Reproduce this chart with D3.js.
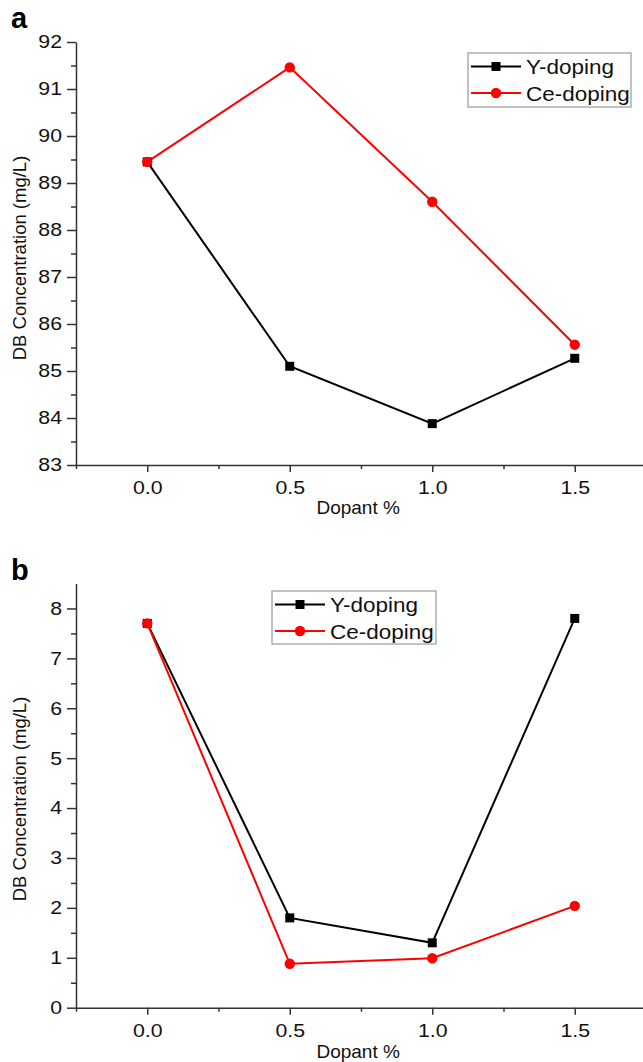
<!DOCTYPE html>
<html>
<head>
<meta charset="utf-8">
<script src="https://cdn.jsdelivr.net/npm/d3@7"></script>
<style>
  html, body { margin: 0; padding: 0; background: #fff; }
  svg { display: block; }
  svg text { font-family: "Liberation Sans", Arial, Helvetica, sans-serif; }
</style>
</head>
<body>
<svg id="chart" width="643" height="1062"></svg>
<script>
// Dopant levels (x values) and x tick labels
const dopant = [0, 0.5, 1.0, 1.5];
const xTickValues = [0, 0.5, 1.0, 1.5];
const xMinorValues = [-0.25, 0.25, 0.75, 1.25, 1.75];

// Panel a: DB concentration (mg/L)
const yDopingA = [89.45, 85.1, 83.88, 85.27];
const ceDopingA = [89.45, 91.46, 88.6, 85.56];
const yTicksA = [83, 84, 85, 86, 87, 88, 89, 90, 91, 92];
const yMinorA = [83.5, 84.5, 85.5, 86.5, 87.5, 88.5, 89.5, 90.5, 91.5];

// Panel b: DB concentration (mg/L)
const yDopingB = [7.7, 1.8, 1.3, 7.8];
const ceDopingB = [7.7, 0.88, 0.99, 2.04];
const yTicksB = [0, 1, 2, 3, 4, 5, 6, 7, 8];
const yMinorB = [0.5, 1.5, 2.5, 3.5, 4.5, 5.5, 6.5, 7.5];

const seriesNames = ["Y-doping", "Ce-doping"];
const seriesColors = ["#000000", "#ff0000"];

const svg = d3.select("#chart");
const axisColor = "#333";

const x = d3.scaleLinear().domain([-0.25, 1.75]).range([76, 646]);

// Widen horizontal labels slightly (the typeface used is a little broader than Arial)
function widen(sel, f) {
  sel.each(function () {
    const w = this.getComputedTextLength();
    d3.select(this).attr("textLength", w * f).attr("lengthAdjust", "spacingAndGlyphs");
  });
}

function drawPanel(opts) {
  const g = svg.append("g");
  const y = d3.scaleLinear().domain(opts.yDomain).range(opts.yRange);
  const y0 = opts.yRange[0];

  // Panel letter
  g.append("text")
    .attr("x", 11).attr("y", opts.letterY)
    .attr("font-size", 29).attr("font-weight", "bold")
    .text(opts.letter);

  // Y axis: minor ticks then major ticks with labels
  g.append("g").attr("transform", "translate(76,0)")
    .call(d3.axisLeft(y).tickValues(opts.yMinor).tickSize(5).tickFormat(""))
    .call(s => s.select(".domain").remove());
  const ya = g.append("g").attr("transform", "translate(76,0)")
    .call(d3.axisLeft(y).tickValues(opts.yTicks).tickSize(9).tickSizeOuter(0).tickPadding(5).tickFormat(d3.format("d")));
  ya.attr("font-family", null).attr("font-size", null);
  ya.selectAll("text").attr("font-size", 18.5).attr("fill", "#111");
  widen(ya.selectAll("text"), 1.15);

  // X axis
  g.append("g").attr("transform", `translate(0,${y0})`)
    .call(d3.axisBottom(x).tickValues(xMinorValues).tickSize(4).tickFormat(""))
    .call(s => s.select(".domain").remove());
  const xa = g.append("g").attr("transform", `translate(0,${y0})`)
    .call(d3.axisBottom(x).tickValues(xTickValues).tickSize(7).tickSizeOuter(0).tickPadding(9).tickFormat(d3.format(".1f")));
  xa.attr("font-family", null).attr("font-size", null);
  xa.selectAll("text").attr("font-size", 18.5).attr("fill", "#111");
  widen(xa.selectAll("text"), 1.15);

  g.selectAll(".domain, .tick line").attr("stroke", axisColor).attr("stroke-width", 1.5);

  // Axis titles
  g.append("text")
    .attr("x", x(0.74)).attr("y", y0 + opts.xTitleOffset)
    .attr("text-anchor", "middle").attr("font-size", 19).attr("fill", "#111")
    .text("Dopant %");
  g.append("text")
    .attr("transform", `translate(26,${opts.yTitleCenter}) rotate(-90)`)
    .attr("text-anchor", "middle").attr("font-size", 18.5).attr("fill", "#111")
    .text("DB Concentration (mg/L)");

  // Series lines and markers
  const line = d3.line().x((d, i) => x(dopant[i])).y(d => y(d));
  opts.series.forEach((vals, k) => {
    g.append("path").datum(vals)
      .attr("fill", "none").attr("stroke", seriesColors[k]).attr("stroke-width", 2)
      .attr("d", line);
  });
  opts.series.forEach((vals, k) => {
    const pts = g.append("g").selectAll("g").data(vals).join("g")
      .attr("transform", (d, i) => `translate(${x(dopant[i])},${y(d)})`);
    if (k === 0) {
      pts.append("rect").attr("x", -4.5).attr("y", -4.5).attr("width", 9).attr("height", 9)
        .attr("fill", seriesColors[k]);
    } else {
      pts.append("circle").attr("r", 5.2).attr("fill", seriesColors[k]);
    }
  });

  // Legend
  const L = opts.legend;
  const lg = g.append("g");
  lg.append("rect")
    .attr("x", L.x).attr("y", L.y).attr("width", L.w).attr("height", L.h)
    .attr("fill", "#fff").attr("stroke", "#999").attr("stroke-width", 1.2);
  seriesNames.forEach((name, k) => {
    const ry = L.y + 13.5 + k * 26.5;
    lg.append("line")
      .attr("x1", L.x + 3).attr("x2", L.x + 53).attr("y1", ry).attr("y2", ry)
      .attr("stroke", seriesColors[k]).attr("stroke-width", 2);
    if (k === 0) {
      lg.append("rect").attr("x", L.x + 28 - 4.5).attr("y", ry - 4.5)
        .attr("width", 9).attr("height", 9).attr("fill", seriesColors[k]);
    } else {
      lg.append("circle").attr("cx", L.x + 28).attr("cy", ry).attr("r", 5.2).attr("fill", seriesColors[k]);
    }
    const t = lg.append("text")
      .attr("x", L.x + 58).attr("y", ry).attr("dy", "0.36em")
      .attr("font-size", 21).attr("fill", "#111")
      .text(name);
    widen(t, 1.07);
  });
}

drawPanel({
  letter: "a", letterY: 28,
  yDomain: [83, 92], yRange: [465, 42],
  yTicks: yTicksA, yMinor: yMinorA,
  series: [yDopingA, ceDopingA],
  xTitleOffset: 49, yTitleCenter: 258,
  legend: { x: 468, y: 53, w: 163, h: 54 }
});

drawPanel({
  letter: "b", letterY: 580,
  yDomain: [0, 8.5], yRange: [1007.7, 583.5],
  yTicks: yTicksB, yMinor: yMinorB,
  series: [yDopingB, ceDopingB],
  xTitleOffset: 50, yTitleCenter: 799,
  legend: { x: 272, y: 591, w: 164, h: 53 }
});
</script>
</body>
</html>
